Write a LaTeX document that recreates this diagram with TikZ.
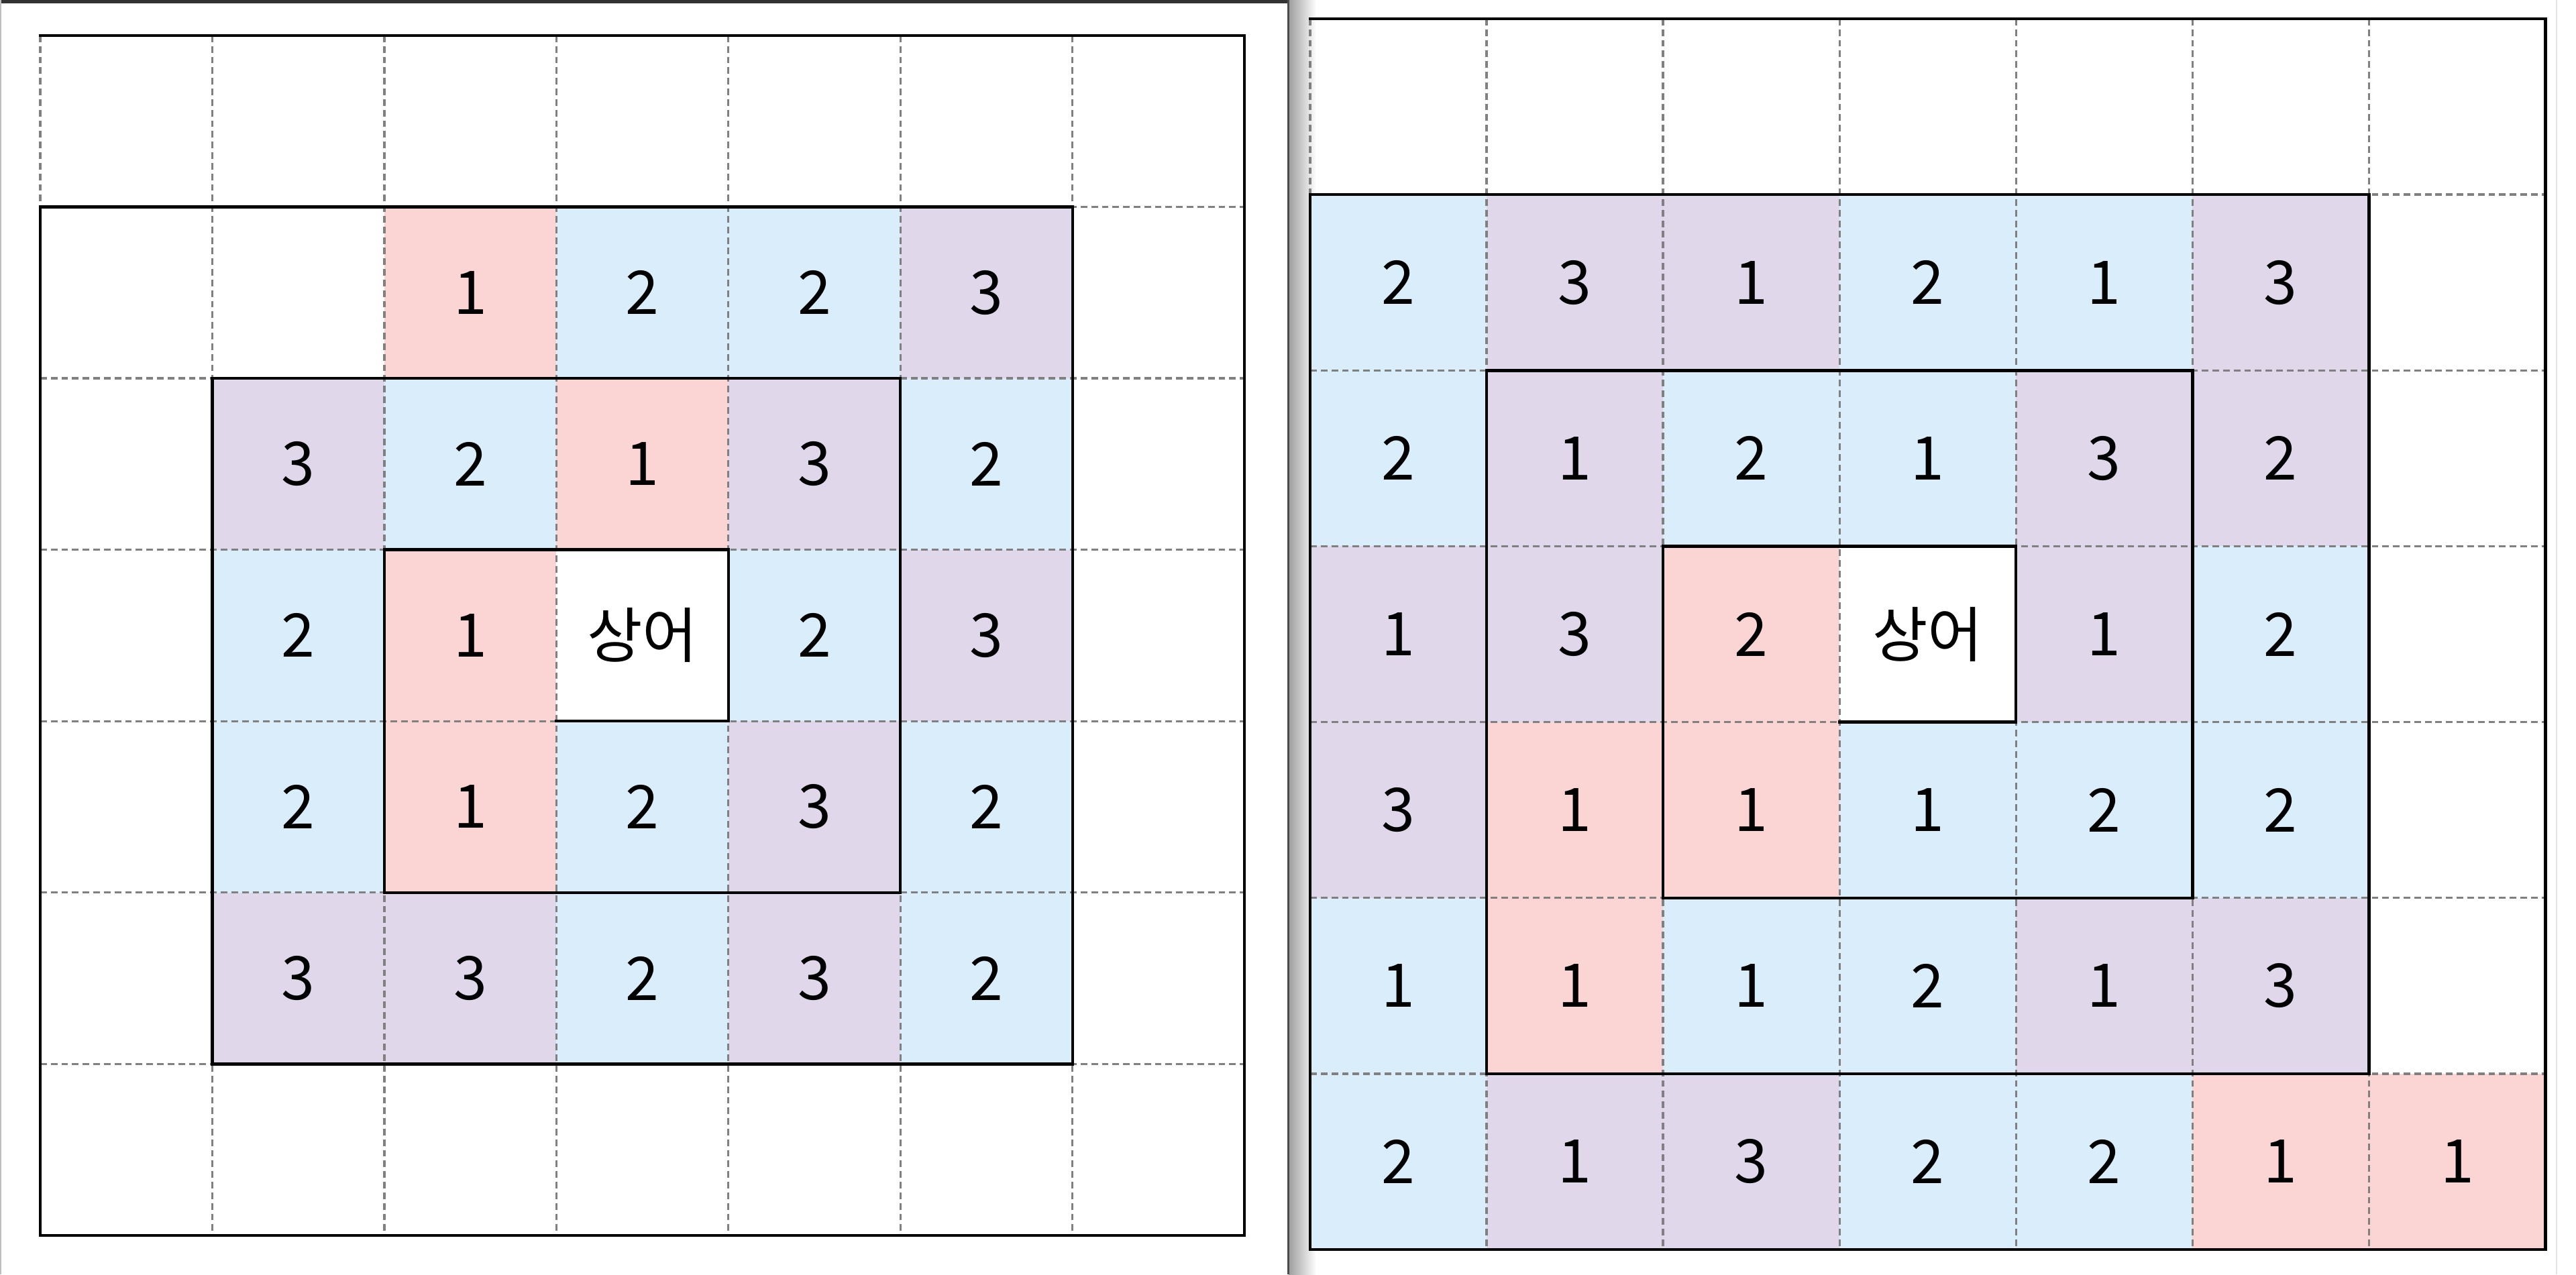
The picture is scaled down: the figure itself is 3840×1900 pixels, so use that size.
\documentclass[tikz,border=0pt]{standalone}
\usepackage{fontspec}
\setmainfont{Noto Sans CJK KR}
\definecolor{cP}{HTML}{FBD5D3}
\definecolor{cB}{HTML}{DAEDFB}
\definecolor{cV}{HTML}{E1D7EB}
\definecolor{dashgray}{HTML}{808080}
\tikzset{
  gridline/.style={draw=dashgray, line width=0.95pt, dash pattern=on 2.8pt off 1.7pt},
  spiral/.style={draw=black, line width=1.25pt, line join=miter, line cap=rect},
  num/.style={inner sep=0pt, font=\fontsize{25.5pt}{30pt}\selectfont, text=black}
}
\begin{document}
\begin{tikzpicture}[x=0.01cm, y=-0.01cm]
\useasboundingbox (0,0) rectangle (3840,1900);
\fill[white] (0,0) rectangle (3840,1900);
% window chrome
\fill[black!80] (0,0) rectangle (1920,5);
\fill[black!25] (0,0) rectangle (2,1900);
\shade[left color=black!38, right color=white] (1921,0) rectangle (1962,1900);
\fill[black!70] (1919,0) rectangle (1922,1900);
\fill[black!10] (3810,0) rectangle (3812,1900);

% ---------------- left panel ----------------
\begin{scope}[shift={(60,53)}, x=2.563cm, y=-2.554cm]
  \foreach \c/\r/\col/\t in {2/1/P/1,3/1/B/2,4/1/B/2,5/1/V/3,
     1/2/V/3,2/2/B/2,3/2/P/1,4/2/V/3,5/2/B/2,
     1/3/B/2,2/3/P/1,4/3/B/2,5/3/V/3,
     1/4/B/2,2/4/P/1,3/4/B/2,4/4/V/3,5/4/B/2,
     1/5/V/3,2/5/V/3,3/5/B/2,4/5/V/3,5/5/B/2}{
    \fill[c\col] (\c,\r) rectangle (\c+1,\r+1);
    \node[num] (L-\c-\r) at (\c+.5,\r+.5) {\t};
  }
  \node[num] (L-shark) at (3.5,3.5) {상어};
  \foreach \i in {1,...,6}{
    \draw[gridline] (\i,0) -- (\i,7);
    \draw[gridline] (0,\i) -- (7,\i);
  }
  \draw[gridline] (0,0) -- (0,1);
  \draw[spiral] (3,4) -- (4,4) -- (4,3) -- (2,3) -- (2,5) -- (5,5) -- (5,2) -- (1,2)
     -- (1,6) -- (6,6) -- (6,1) -- (0,1) -- (0,7) -- (7,7) -- (7,0) -- (0,0);
\end{scope}

% ---------------- right panel ----------------
\begin{scope}[shift={(1953,28)}, x=2.629cm, y=-2.62cm]
  \foreach \c/\r/\col/\t in {0/1/B/2,1/1/V/3,2/1/V/1,3/1/B/2,4/1/B/1,5/1/V/3,
     0/2/B/2,1/2/V/1,2/2/B/2,3/2/B/1,4/2/V/3,5/2/V/2,
     0/3/V/1,1/3/V/3,2/3/P/2,4/3/V/1,5/3/B/2,
     0/4/V/3,1/4/P/1,2/4/P/1,3/4/B/1,4/4/B/2,5/4/B/2,
     0/5/B/1,1/5/P/1,2/5/B/1,3/5/B/2,4/5/V/1,5/5/V/3,
     0/6/B/2,1/6/V/1,2/6/V/3,3/6/B/2,4/6/B/2,5/6/P/1,6/6/P/1}{
    \fill[c\col] (\c,\r) rectangle (\c+1,\r+1);
    \node[num] (R-\c-\r) at (\c+.5,\r+.5) {\t};
  }
  \node[num] (R-shark) at (3.5,3.5) {상어};
  \foreach \i in {1,...,6}{
    \draw[gridline] (\i,0) -- (\i,7);
    \draw[gridline] (0,\i) -- (7,\i);
  }
  \draw[gridline] (0,0) -- (0,1);
  \draw[spiral] (3,4) -- (4,4) -- (4,3) -- (2,3) -- (2,5) -- (5,5) -- (5,2) -- (1,2)
     -- (1,6) -- (6,6) -- (6,1) -- (0,1) -- (0,7) -- (7,7) -- (7,0) -- (0,0);
\end{scope}
\end{tikzpicture}
\end{document}
